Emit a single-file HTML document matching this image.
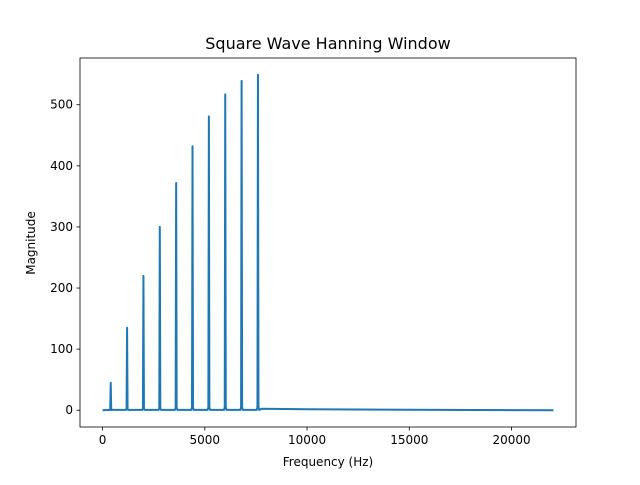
<!DOCTYPE html>
<html><head><meta charset="utf-8"><style>
body{margin:0;background:#fff;font-family:"Liberation Sans","DejaVu Sans",sans-serif}
svg text{font-family:"DejaVu Sans","Liberation Sans",sans-serif}
</style></head><body>
<svg id="c" width="640" height="480" xmlns="http://www.w3.org/2000/svg">
<rect width="640" height="480" fill="#fff"/>
<text x="328" y="49" font-size="16" text-anchor="middle">Square Wave Hanning Window</text>
<g id="plot"></g>
<rect x="80" y="58" width="496" height="369" fill="none" stroke="#000" stroke-width="0.8"/>
<text x="328" y="466" font-size="12" text-anchor="middle">Frequency (Hz)</text>
<text transform="translate(35,243) rotate(-90)" font-size="12" text-anchor="middle">Magnitude</text>
</svg>
<script>
const peakFreqs=[400,1200,2000,2800,3600,4400,5200,6000,6800,7600];
const peakMags=[45,135,220,300,372,432,481,517,539,549];
const tailFreqs=[7800,10000,15000,22050];
const tailMags=[2.5,1.5,0.8,0];
const xTicks=[0,5000,10000,15000,20000];
const yTicks=[0,100,200,300,400,500];
const X0=80,X1=576,Y0=427,Y1=58,xmin=-1102,xmax=23152,ymin=-27.45,ymax=576.5;
const sx=v=>X0+(v-xmin)/(xmax-xmin)*(X1-X0);
const sy=v=>Y0-(v-ymin)/(ymax-ymin)*(Y0-Y1);
const ns="http://www.w3.org/2000/svg",g=document.getElementById('plot');
function mk(t,a){const e=document.createElementNS(ns,t);for(const k in a)e.setAttribute(k,a[k]);g.appendChild(e);return e;}
xTicks.forEach(v=>{
const l=mk('line',{x1:sx(v),x2:sx(v),y1:Y0,y2:Y0+3.5,stroke:'#000','stroke-width':0.8});


const t=mk('text',{x:sx(v),y:Y0+17,'font-size':12,'text-anchor':'middle'});t.textContent=v;


});
yTicks.forEach(v=>{
const l=mk('line',{x1:X0-3.5,x2:X0,y1:sy(v),y2:sy(v),stroke:'#000','stroke-width':0.8});


const t=mk('text',{x:X0-7,y:sy(v)+4,'font-size':12,'text-anchor':'end'});t.textContent=v;


});
let d='M'+sx(0)+','+sy(0);
peakFreqs.forEach((f,i)=>{
d+=' L'+sx(f-60)+','+sy(0.5)+' L'+sx(f-25)+','+sy(peakMags[i]*0.01)+' L'+sx(f)+','+sy(peakMags[i])+' L'+sx(f+25)+','+sy(peakMags[i]*0.01)+' L'+sx(f+60)+','+sy(0.5);
});
tailFreqs.forEach((f,i)=>{d+=' L'+sx(f)+','+sy(tailMags[i]);});
const p=mk('path',{d:d,fill:'none',stroke:'#1f77b4','stroke-width':2,'stroke-linejoin':'round'});


</script>
</body></html>
